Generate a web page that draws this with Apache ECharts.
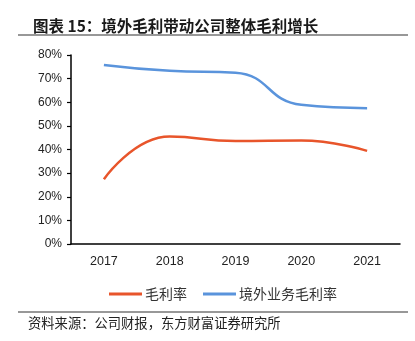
<!DOCTYPE html>
<html>
<head>
<meta charset="utf-8">
<script src="https://cdn.jsdelivr.net/npm/echarts@6/dist/echarts.min.js"></script>
<style>
  html, body { margin: 0; padding: 0; background: #fff; }
  #chart { width: 415px; height: 341px; }
</style>
</head>
<body>
<div id="chart"></div>
<script>
// Years on the category axis
const years = ['2017', '2018', '2019', '2020', '2021'];
// Gross margin, whole company (%)
const grossMargin = [27.4, 45.5, 43.6, 43.8, 39.4];
// Gross margin, overseas business (%)
const overseasMargin = [75.8, 73.3, 72.5, 58.9, 57.5];
// Value-axis tick range (%)
const yMin = 0, yMax = 80, yStep = 10;

const seriesNames = ['毛利率', '境外业务毛利率'];
const seriesColors = ['#E8552B', '#5A94DC'];

const chart = echarts.init(document.getElementById('chart'), null, { renderer: 'canvas' });

chart.setOption({
  backgroundColor: '#ffffff',
  animation: false,
  title: {
    text: '图表 15：境外毛利带动公司整体毛利增长',
    left: 28,
    top: 13,
    textStyle: {
      fontFamily: '"Noto Sans CJK SC", sans-serif',
      fontSize: 15.5,
      fontWeight: 'bold',
      color: '#1a1a1a'
    }
  },
  graphic: [
    { type: 'line', shape: { x1: 18, y1: 35, x2: 408, y2: 35 }, style: { stroke: '#333', lineWidth: 1.2 } },
    { type: 'line', shape: { x1: 18, y1: 312, x2: 408, y2: 312 }, style: { stroke: '#333', lineWidth: 1.2 } },
    {
      type: 'text', left: 28, top: 316,
      style: {
        text: '资料来源：公司财报，东方财富证券研究所',
        font: '13.3px "Noto Sans CJK SC", sans-serif',
        fill: '#222'
      }
    }
  ],
  legend: {
    data: seriesNames,
    left: 104,
    top: 282,
    icon: 'rect',
    itemWidth: 33,
    itemHeight: 3,
    itemGap: 16,
    textStyle: {
      fontFamily: '"Noto Sans CJK SC", sans-serif',
      fontSize: 14,
      color: '#333',
      padding: [0, 0, 0, -2]
    }
  },
  grid: { left: 71, top: 55, right: 15, height: 189, containLabel: false },
  xAxis: {
    type: 'category',
    data: years,
    boundaryGap: true,
    axisLine: { lineStyle: { color: '#000', width: 1.5 } },
    axisTick: { show: false },
    axisLabel: {
      margin: 11,
      fontFamily: '"Liberation Sans", Arial, sans-serif',
      fontSize: 12.5,
      color: '#222'
    }
  },
  yAxis: {
    type: 'value',
    min: yMin,
    max: yMax,
    interval: yStep,
    axisLine: { show: true, lineStyle: { color: '#000', width: 1.5 } },
    axisTick: { show: true, length: 4, lineStyle: { color: '#000', width: 1.2 } },
    splitLine: { show: false },
    axisLabel: {
      formatter: '{value}%',
      margin: 9,
      fontFamily: '"Liberation Sans", Arial, sans-serif',
      fontSize: 12,
      color: '#222'
    }
  },
  series: [
    {
      name: seriesNames[0],
      type: 'line',
      data: grossMargin,
      smooth: 0.5,
      symbol: 'none',
      lineStyle: { color: seriesColors[0], width: 2.5 },
      itemStyle: { color: seriesColors[0] }
    },
    {
      name: seriesNames[1],
      type: 'line',
      data: overseasMargin,
      smooth: 0.5,
      symbol: 'none',
      lineStyle: { color: seriesColors[1], width: 2.5 },
      itemStyle: { color: seriesColors[1] }
    }
  ]
});
</script>
</body>
</html>
